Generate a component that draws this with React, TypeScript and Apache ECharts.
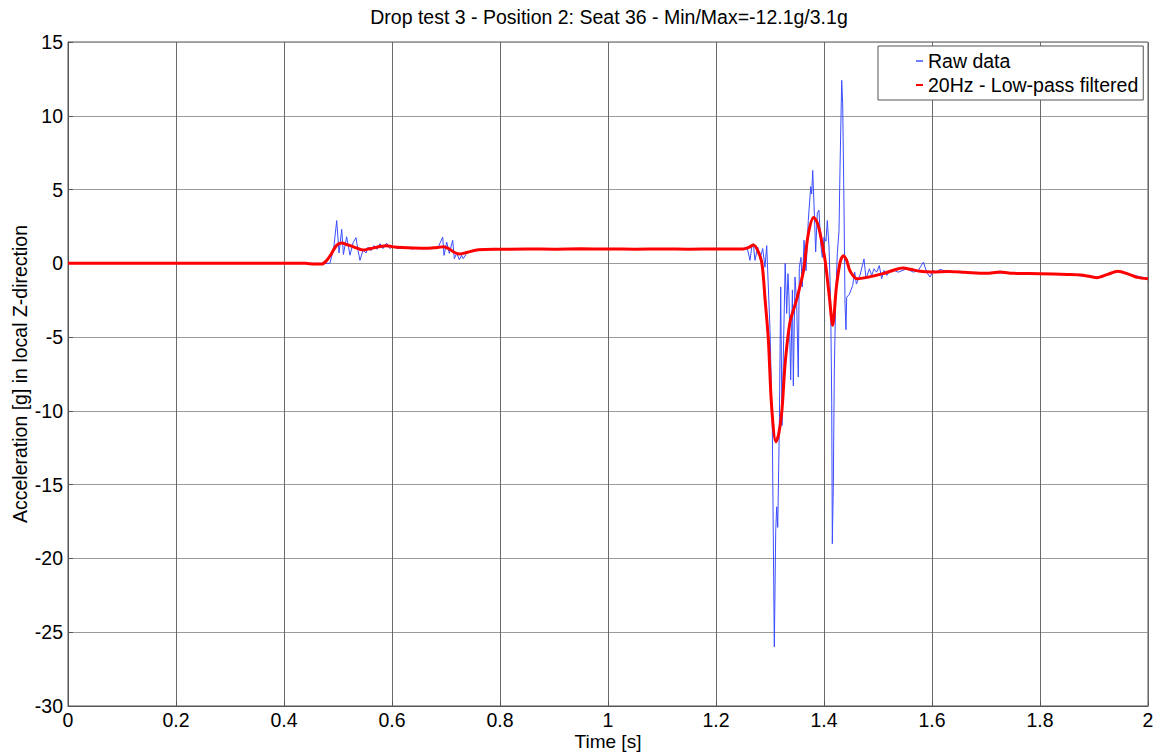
import React, { useEffect, useRef } from "react";
import * as echarts from "echarts";

const titleText = "Drop test 3 - Position 2: Seat 36 - Min/Max=-12.1g/3.1g";
const xName = "Time [s]";
const yName = "Acceleration [g] in local Z-direction";
const seriesNames = ["Raw data", "20Hz - Low-pass filtered"];

const rawTime = [
  0, 0.46, 0.478, 0.485, 0.492, 0.4976, 0.5019, 0.5069, 0.51, 0.516, 0.5222, 0.528, 0.5333, 0.537, 0.5407,
  0.5463, 0.5519, 0.5556, 0.561, 0.5667, 0.572, 0.5778, 0.5833, 0.59, 0.596, 0.602, 0.611, 0.624, 0.637,
  0.652, 0.67, 0.685, 0.6939, 0.6963, 0.7013, 0.7061, 0.7124, 0.7154, 0.7198, 0.7246, 0.7291, 0.732,
  0.7383, 0.7476, 0.763, 0.8, 0.9, 1.0, 1.1, 1.2, 1.25, 1.2574, 1.263, 1.2661, 1.2691, 1.2722, 1.2772,
  1.2815, 1.2865, 1.2907, 1.2939, 1.3, 1.3043, 1.308, 1.3106, 1.3124, 1.3143, 1.3172, 1.3198, 1.3222,
  1.3259, 1.3281, 1.3309, 1.3333, 1.3352, 1.3383, 1.3415, 1.3432, 1.3463, 1.3494, 1.3524, 1.3543, 1.3574,
  1.3598, 1.363, 1.3667, 1.3709, 1.3754, 1.3772, 1.3791, 1.3815, 1.3846, 1.3876, 1.3907, 1.3939, 1.3969,
  1.4, 1.4037, 1.4061, 1.4093, 1.4124, 1.4143, 1.4154, 1.4172, 1.4191, 1.4217, 1.4246, 1.4278, 1.4296,
  1.4328, 1.4346, 1.437, 1.4389, 1.4407, 1.442, 1.4469, 1.4531, 1.4568, 1.4599, 1.4667, 1.4741, 1.4778,
  1.484, 1.4883, 1.4926, 1.4975, 1.5024, 1.5068, 1.5111, 1.5161, 1.5253, 1.5377, 1.5531, 1.5654, 1.5747,
  1.584, 1.5902, 1.5963, 1.6025, 1.6087, 1.6148, 1.6272, 1.65, 1.7, 1.75, 1.8, 1.85, 1.905, 1.944, 2.0,
];
const rawAccel = [
  0, 0, 0, 0, 1.0, 2.9, 0.7, 2.3, 0.6, 1.8, 0.55, 1.4, 1.74, 0.9, 0.2,
  0.9, 0.7, 1.1, 0.85, 1.2, 0.95, 1.33, 1.0, 1.37, 1.0, 1.15, 1.0, 1.05, 0.98,
  1.05, 1.0, 1.05, 1.78, 0.54, 1.44, 0.68, 1.56, 0.32, 0.68, 0.25, 0.54, 0.32,
  0.68, 0.88, 0.95, 0.97, 1.0, 1.0, 0.98, 1.0, 1.0, 1.1, 0.2, 1.1, 1.33, 0.2, 1.1,
  0.3, 1.0, -0.27, 1.2, -4.5, -11.3, -26.0, -18.1, -16.5, -17.9, -11.3, -1.6, -11.0,
  -4.0, 0.0, -3.4, -0.7, -2.3, -7.9, -1.8, -8.3, -0.93, -2.7, -7.7, -0.27, 0.4,
  -1.6, 1.56, -0.5, 2.9, 5.2, 4.7, 6.3, 4.0, 0.77, 3.4, 3.6, 1.33, 0.4,
  1.78, 1.5, 2.9, 1.1, -2.7, -9.5, -19.0, -15.2, -7.3, -2.3, 0.65, 2.2, 6.3,
  12.4, 10.8, 4.0, -2.7, -4.5, -2.3, -2.1, -1.5, -0.6, -1.4, -0.8, 0.3, -1.04,
  -0.37, -0.82, -0.37, -0.6, -0.15, -1.04, -0.48, -0.82, -0.41, -0.6, -0.37, -0.6, -0.48,
  0.08, -0.6, -0.93, -0.48, -0.6, -0.41, -0.54, -0.6, -0.65, -0.66, -0.7, -0.75, -0.97, -0.54, -1.04,
];

const filtTime = [
  0, 0.44, 0.455, 0.47, 0.478, 0.487, 0.497, 0.507, 0.518, 0.53, 0.546, 0.56, 0.575, 0.59, 0.605, 0.63,
  0.66, 0.685, 0.695, 0.705, 0.715, 0.726, 0.74, 0.76, 0.8, 0.85, 0.9, 0.95, 1.0, 1.05, 1.1, 1.15, 1.2,
  1.25, 1.262, 1.269, 1.277, 1.285, 1.291, 1.297, 1.303, 1.311, 1.316, 1.322, 1.328, 1.337, 1.349, 1.362,
  1.371, 1.381, 1.387, 1.393, 1.402, 1.41, 1.416, 1.423, 1.43, 1.436, 1.442, 1.448, 1.461, 1.48, 1.509,
  1.53, 1.546, 1.56, 1.578, 1.6, 1.63, 1.66, 1.7, 1.726, 1.75, 1.8, 1.85, 1.88, 1.905, 1.925, 1.944,
  1.965, 1.98, 2.0,
];
const filtAccel = [
  0, 0, -0.05, -0.05, 0.15, 0.6, 1.2, 1.37, 1.25, 1.1, 0.9, 1.0, 1.12, 1.2, 1.1, 1.05,
  1.02, 1.08, 1.12, 1.0, 0.75, 0.63, 0.75, 0.92, 0.95, 0.97, 0.96, 0.98, 0.97, 0.96, 0.97, 0.96, 0.97,
  0.97, 1.1, 1.25, 0.9, 0.0, -2.5, -5.2, -9.7, -12.1, -11.6, -10.0, -6.8, -4.0, -2.5, -0.5,
  2.0, 3.1, 2.8, 2.0, 0.2, -2.3, -4.2, -1.6, 0.1, 0.52, 0.2, -0.5, -1.04, -0.95, -0.7,
  -0.45, -0.32, -0.4, -0.54, -0.58, -0.55, -0.6, -0.68, -0.59, -0.68, -0.7, -0.75, -0.8, -0.97, -0.75, -0.54,
  -0.75, -0.95, -1.04,
];

const xMin = 0, xMax = 2, xStep = 0.2;
const yMin = -30, yMax = 15, yStep = 5;

const FONT = "'Liberation Sans', Arial, sans-serif";
const FS = 19.5;

export default function App() {
  const ref = useRef<HTMLDivElement>(null);
  useEffect(() => {
    if (!ref.current) return;
    const chart = echarts.init(ref.current, undefined, { renderer: "svg" });
    const raw = rawTime.map((t, i) => [t, rawAccel[i]]);
    const filt = filtTime.map((t, i) => [t, filtAccel[i]]);
    chart.setOption({
      animation: false,
      backgroundColor: "#ffffff",
      textStyle: { fontFamily: FONT, color: "#000" },
      title: {
        text: titleText,
        left: 604,
        top: 2,
        textAlign: "center",
        textStyle: { fontFamily: FONT, fontSize: FS, fontWeight: "normal", color: "#000" },
      },
      grid: {
        left: 68,
        right: 9,
        top: 42,
        bottom: 47,
        containLabel: false,
        outerBoundsMode: "none",
        show: true,
        borderColor: "#555",
        borderWidth: 1,
        backgroundColor: "#fff",
      },
      legend: {
        orient: "vertical",
        left: 878,
        top: 46,
        padding: [5, 5, 5, 38],
        itemGap: 4,
        itemWidth: 7,
        itemHeight: 2,
        backgroundColor: "#fff",
        borderColor: "#555",
        borderWidth: 1,
        borderRadius: 0,
        textStyle: { fontFamily: FONT, fontSize: FS, color: "#000" },
        data: [
          { name: seriesNames[0], icon: "rect", itemStyle: { color: "#6f7dff" } },
          { name: seriesNames[1], icon: "rect", itemStyle: { color: "#ff0000" } },
        ],
      },
      xAxis: {
        type: "value",
        min: xMin,
        max: xMax,
        interval: xStep,
        name: xName,
        nameLocation: "middle",
        nameGap: 26,
        nameMoveOverlap: false,
        nameTextStyle: { fontFamily: FONT, fontSize: 19, color: "#000" },
        axisLine: { show: true, onZero: false, lineStyle: { color: "#555" } },
        axisTick: { show: true, inside: true, length: 5, lineStyle: { color: "#555" } },
        axisLabel: { fontFamily: FONT, fontSize: FS, color: "#000", margin: 4 },
        splitLine: { show: true, lineStyle: { color: "#6a6a6a", width: 1 } },
      },
      yAxis: {
        type: "value",
        min: yMin,
        max: yMax,
        interval: yStep,
        name: yName,
        nameLocation: "middle",
        nameGap: 38,
        nameMoveOverlap: false,
        nameTextStyle: { fontFamily: FONT, fontSize: FS, color: "#000" },
        axisLine: { show: true, onZero: false, lineStyle: { color: "#555" } },
        axisTick: { show: true, inside: true, length: 5, lineStyle: { color: "#555" } },
        axisLabel: { fontFamily: FONT, fontSize: FS, color: "#000", margin: 5 },
        splitLine: { show: true, lineStyle: { color: "#9a9a9a", width: 1 } },
      },
      series: [
        {
          name: seriesNames[0],
          type: "line",
          data: raw,
          showSymbol: false,
          symbol: "none",
          lineStyle: { color: "#3a4dff", width: 1 },
          itemStyle: { color: "#6f7dff" },
          z: 2,
        },
        {
          name: seriesNames[1],
          type: "line",
          data: filt,
          showSymbol: false,
          symbol: "none",
          smooth: 0.3,
          lineStyle: { color: "#ff0000", width: 3 },
          itemStyle: { color: "#ff0000" },
          z: 3,
        },
      ],
    });
    return () => chart.dispose();
  }, []);
  return (
    <div
      ref={ref}
      style={{ position: "fixed", left: 0, top: 0, width: 1157, height: 753 }}
    />
  );
}
